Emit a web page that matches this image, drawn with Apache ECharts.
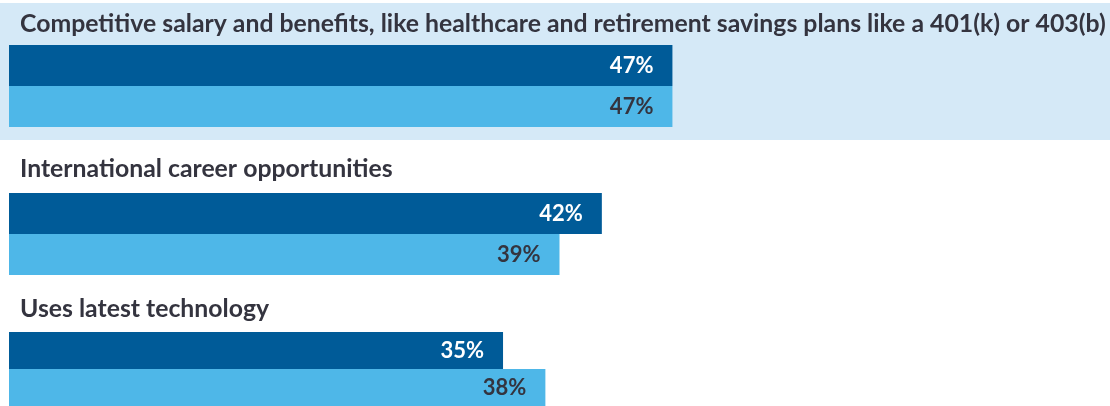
<!DOCTYPE html>
<html>
<head>
<meta charset="utf-8">
<script src="https://cdn.jsdelivr.net/npm/echarts@6/dist/echarts.min.js"></script>
<style>
html,body{margin:0;padding:0;background:#fff;}
#main{width:1110px;height:406px;}
</style>
</head>
<body>
<div id="main"></div>
<script>
var categories = [
  'Competitive salary and benefits, like healthcare and retirement savings plans like a 401(k) or 403(b)',
  'International career opportunities',
  'Uses latest technology'
];
var seriesDark = [47, 42, 35];
var seriesLight = [47, 39, 38];

var DARK = '#005B98';
var LIGHT = '#4EB7E8';
var BG = '#D5E9F7';
var TEXT = '#34343F';
var FONT = 'Lato, "Open Sans", sans-serif';

var gridTops = [45, 193, 332];
var titleYs = [24, 169, 309];

var grids = [], xAxes = [], yAxes = [], series = [], graphics = [];

graphics.push({type:'rect', left:0, top:3, shape:{width:1110, height:137}, style:{fill:BG}, z:-10});

categories.forEach(function(cat, i){
  grids.push({left:9, top:gridTops[i], right:0, height:82});
  xAxes.push({type:'value', gridIndex:i, min:0, max:78, show:false});
  yAxes.push({type:'category', gridIndex:i, data:[cat], show:false});
  graphics.push({
    type:'text', x:20, y:titleYs[i],
    style:{text:cat, font:'bold 24.8px ' + FONT, fill:TEXT, verticalAlign:'middle'}
  });
  series.push({
    type:'bar', xAxisIndex:i, yAxisIndex:i, data:[seriesDark[i]],
    barWidth:41, barGap:'0%', itemStyle:{color:DARK}, silent:true,
    label:{show:true, position:'insideRight', distance:19, formatter:'{c}%',
      color:'#ffffff', fontFamily:FONT, fontWeight:'bold', fontSize:22}
  });
  series.push({
    type:'bar', xAxisIndex:i, yAxisIndex:i, data:[seriesLight[i]],
    barWidth:41, barGap:'0%', itemStyle:{color:LIGHT}, silent:true,
    label:{show:true, position:'insideRight', distance:19, formatter:'{c}%',
      color:TEXT, fontFamily:FONT, fontWeight:'bold', fontSize:22}
  });
});

var chart = echarts.init(document.getElementById('main'), null, {renderer:'canvas'});
chart.setOption({
  animation:false,
  backgroundColor:'#ffffff',
  grid:grids, xAxis:xAxes, yAxis:yAxes, series:series,
  graphic:graphics
});
</script>
</body>
</html>
